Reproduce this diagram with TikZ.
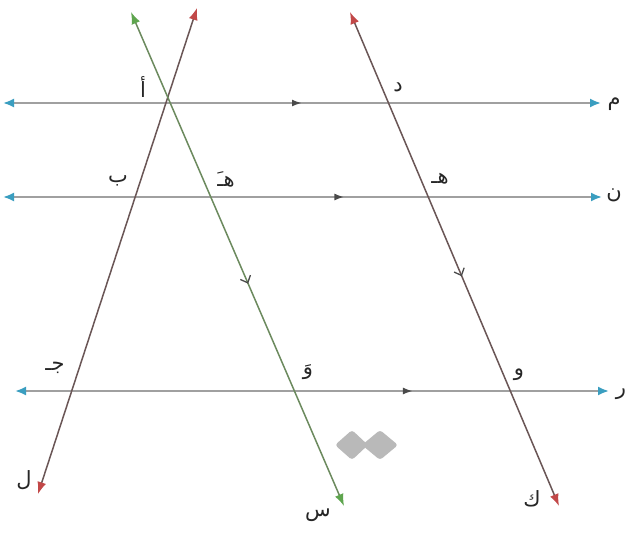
\documentclass[tikz,border=0pt]{standalone}
\usepackage{fontspec}
\newfontfamily\arabicfont[Script=Arabic]{DejaVu Sans}
\TeXXeTstate=1
\usetikzlibrary{arrows.meta,decorations.markings}
\definecolor{hline}{HTML}{A0A0A0}
\definecolor{tealtip}{HTML}{3A9EC0}
\definecolor{redtip}{HTML}{C24848}
\definecolor{greentip}{HTML}{5EA54E}
\definecolor{brownline}{HTML}{6A5656}
\definecolor{greenline}{HTML}{6C8A5E}
\definecolor{midtip}{HTML}{4A4A4A}
\begin{document}
\begin{tikzpicture}[x=1pt,y=-1pt,
  lab/.style={font=\arabicfont\fontsize{21}{24}\selectfont, inner sep=0pt, text=black!85},
  horiz/.style={draw=hline, line width=2pt, {Latex[color=tealtip,length=11pt,width=9pt]}-{Latex[color=tealtip,length=11pt,width=9pt]}},
  redslant/.style={draw=brownline, line width=1.5pt, {Latex[color=redtip,length=12pt,width=9pt]}-{Latex[color=redtip,length=12pt,width=9pt]}},
  greenslant/.style={draw=greenline, line width=1.5pt, {Latex[color=greentip,length=12pt,width=9pt]}-{Latex[color=greentip,length=12pt,width=9pt]}},
  midfill/.style={postaction={decorate,decoration={markings,mark=at position #1 with {\arrow{Latex[color=midtip,length=10pt,width=7pt]}}}}},
  midopen/.style={postaction={decorate,decoration={markings,mark=at position #1 with {\arrow[midtip,line width=1.3pt]{Straight Barb[length=6pt,width=11pt]}}}}}
]
\useasboundingbox (0,0) rectangle (628,533);
\fill[white] (0,0) rectangle (628,533);

% watermark shape
\fill[gray!55, rounded corners=3pt] (335,445) -- (352,430) -- (368,445) -- (352,460) -- cycle;
\fill[gray!55, rounded corners=3pt] (362,445) -- (380,430) -- (398,445) -- (380,460) -- cycle;

% horizontal lines
\coordinate (h1l) at (3,103);   \coordinate (h1r) at (601,103);
\coordinate (h2l) at (3,197);   \coordinate (h2r) at (602,197);
\coordinate (h3l) at (15,391);  \coordinate (h3r) at (609,391);
\draw[horiz, midfill=0.50] (h1l) -- (h1r);
\draw[horiz, midfill=0.57] (h2l) -- (h2r);
\draw[horiz, midfill=0.67] (h3l) -- (h3r);

% slanted lines
\coordinate (lt) at (197,8);   \coordinate (lb) at (38,494);
\coordinate (st) at (131,12);  \coordinate (sb) at (344,506);
\coordinate (kt) at (350,12);  \coordinate (kb) at (559,506);
\draw[redslant] (lt) -- (lb);
\draw[greenslant, midopen=0.55] (st) -- (sb);
\draw[redslant, midopen=0.535] (kt) -- (kb);

% labels
\node[lab] (lA) at (143,87) {أ};
\node[lab] (lD) at (398,87) {د};
\node[lab] (lM) at (614,104) {م};
\node[lab] (lB) at (118,181) {ب};
\node[lab] (lHp) at (226,179) {\beginR هـَ\endR};
\node[lab] (lH) at (440,179) {\beginR هـ\endR};
\node[lab] (lN) at (614,195) {ن};
\node[lab] (lJ) at (55,368) {\beginR جـ\endR};
\node[lab] (lWp) at (308,372) {وَ};
\node[lab] (lW) at (519,375) {و};
\node[lab] (lR) at (621,394) {ر};
\node[lab] (lL) at (24,480) {ل};
\node[lab] (lS) at (318,515) {س};
\node[lab] (lK) at (532,499) {ك};
\end{tikzpicture}
\end{document}
